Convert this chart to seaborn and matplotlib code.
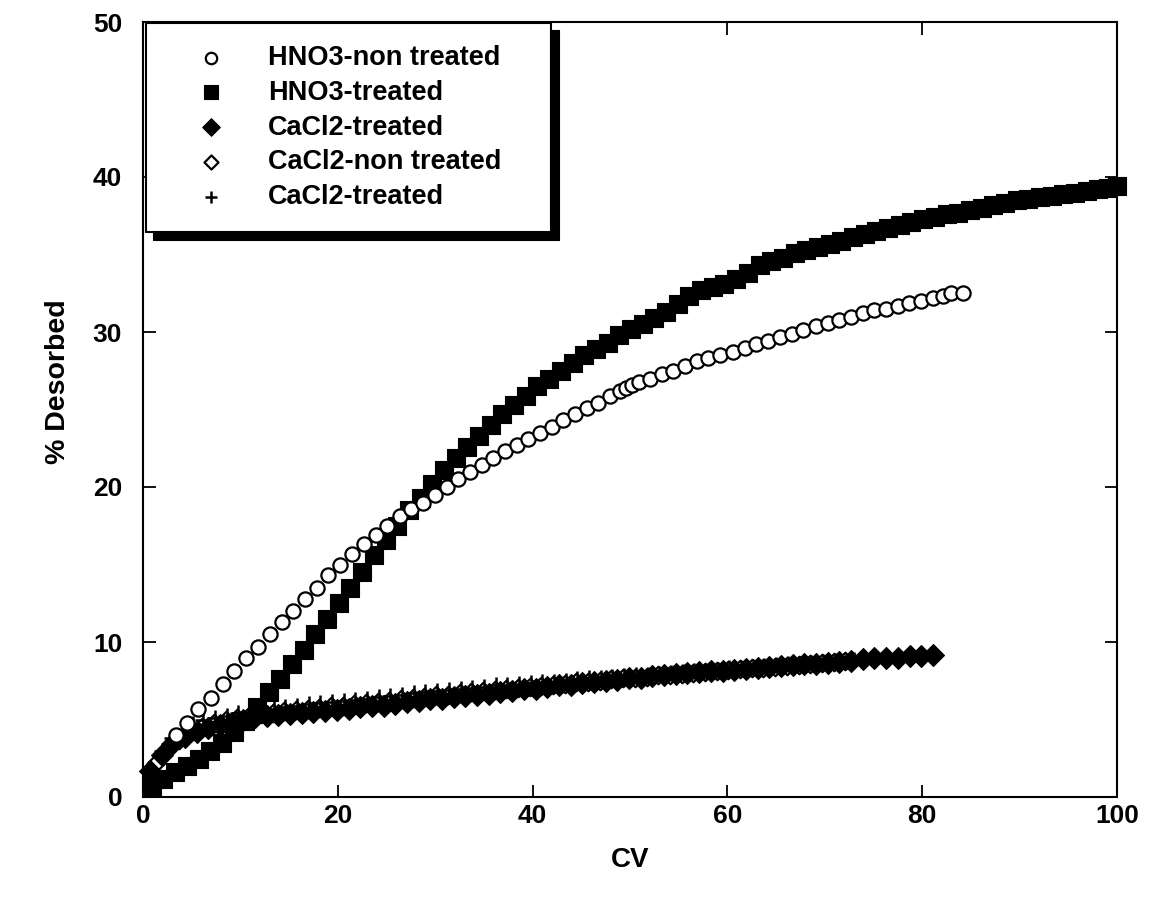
import matplotlib
matplotlib.use("Agg")
import matplotlib.pyplot as plt
import seaborn as sns

# HNO3-non treated (open circles)
hno3_non_cv = [3.4, 4.5, 5.6, 7.0, 8.2, 9.3, 10.6, 11.8, 13.0, 14.3,
               15.4, 16.6, 17.9, 19.0, 20.2, 21.5, 22.7, 23.9, 25.1, 26.4,
               27.5, 28.7, 30.0, 31.2, 32.3, 33.6, 34.8, 35.9, 37.2, 38.4,
               39.5, 40.8, 42.0, 43.1, 44.4, 45.6, 46.7, 47.9, 49.0, 49.6,
               50.2, 50.9, 52.1, 53.3, 54.4, 55.6, 56.9, 58.0, 59.2, 60.6,
               61.8, 62.9, 64.2, 65.4, 66.6, 67.8, 69.1, 70.3, 71.5, 72.7,
               73.9, 75.1, 76.3, 77.5, 78.6, 79.9, 81.1, 82.1, 83.0, 84.2]
hno3_non_pct = [4.0, 4.8, 5.7, 6.4, 7.3, 8.1, 9.0, 9.7, 10.5, 11.3,
                12.0, 12.8, 13.5, 14.3, 15.0, 15.7, 16.3, 16.9, 17.5, 18.1,
                18.6, 19.0, 19.5, 20.0, 20.5, 21.0, 21.4, 21.9, 22.3, 22.7,
                23.1, 23.5, 23.9, 24.3, 24.7, 25.1, 25.4, 25.9, 26.2, 26.4,
                26.6, 26.8, 27.0, 27.3, 27.5, 27.8, 28.1, 28.3, 28.5, 28.7,
                29.0, 29.2, 29.4, 29.7, 29.9, 30.1, 30.4, 30.6, 30.8, 31.0,
                31.2, 31.4, 31.5, 31.7, 31.9, 32.0, 32.2, 32.3, 32.5, 32.5]

# HNO3-treated (filled squares)
hno3_tr_cv = [0.9, 2.1, 3.3, 4.5, 5.7, 6.9, 8.1, 9.3, 10.5, 11.7,
              12.9, 14.1, 15.3, 16.5, 17.7, 18.9, 20.1, 21.3, 22.5, 23.7,
              24.9, 26.1, 27.3, 28.5, 29.7, 30.9, 32.1, 33.3, 34.5, 35.7,
              36.9, 38.1, 39.3, 40.5, 41.7, 42.9, 44.1, 45.3, 46.5, 47.7,
              48.9, 50.1, 51.3, 52.5, 53.7, 54.9, 56.1, 57.3, 58.5, 59.7,
              60.9, 62.1, 63.3, 64.5, 65.7, 66.9, 68.1, 69.3, 70.5, 71.7,
              72.9, 74.1, 75.3, 76.5, 77.7, 78.9, 80.1, 81.3, 82.5, 83.7,
              84.9, 86.1, 87.3, 88.5, 89.7, 90.9, 92.1, 93.3, 94.5, 95.7,
              96.9, 98.1, 99.1, 100.0]
hno3_tr_pct = [0.7, 1.15, 1.6, 2.0, 2.45, 3.0, 3.5, 4.2, 4.9, 5.8,
               6.8, 7.6, 8.6, 9.5, 10.5, 11.5, 12.5, 13.5, 14.5, 15.6,
               16.6, 17.5, 18.5, 19.3, 20.2, 21.1, 21.9, 22.6, 23.3, 24.0,
               24.7, 25.3, 25.9, 26.5, 27.0, 27.5, 28.0, 28.5, 28.9, 29.3,
               29.8, 30.2, 30.5, 30.9, 31.3, 31.8, 32.3, 32.7, 32.9, 33.1,
               33.4, 33.8, 34.3, 34.6, 34.8, 35.1, 35.3, 35.5, 35.7, 35.9,
               36.1, 36.3, 36.5, 36.7, 36.9, 37.1, 37.3, 37.4, 37.6, 37.7,
               37.9, 38.0, 38.2, 38.3, 38.5, 38.6, 38.7, 38.8, 38.9, 39.0,
               39.1, 39.2, 39.3, 39.4]

# CaCl2-treated (filled diamonds)
cacl2_tr_cv = [0.7, 1.9, 3.1, 4.3, 5.5, 6.7, 7.9, 9.1, 10.3, 11.5,
               12.7, 13.9, 15.1, 16.3, 17.5, 18.7, 19.9, 21.1, 22.3, 23.5,
               24.7, 25.9, 27.1, 28.3, 29.5, 30.7, 31.9, 33.1, 34.3, 35.5,
               36.7, 37.9, 39.1, 40.3, 41.5, 42.7, 43.9, 45.1, 46.3, 47.5,
               48.7, 49.9, 51.1, 52.3, 53.5, 54.7, 55.9, 57.1, 58.3, 59.5,
               60.7, 61.9, 63.1, 64.3, 65.5, 66.7, 67.9, 69.1, 70.3, 71.5,
               72.7, 73.9, 75.1, 76.3, 77.5, 78.7, 79.9, 81.1]
cacl2_tr_pct = [1.7, 2.7, 3.5, 3.9, 4.2, 4.45, 4.65, 4.8, 5.0, 5.15,
                5.25, 5.3, 5.35, 5.4, 5.5, 5.55, 5.6, 5.7, 5.8, 5.85,
                5.9, 6.0, 6.1, 6.2, 6.3, 6.35, 6.45, 6.5, 6.6, 6.65,
                6.75, 6.85, 6.95, 7.0, 7.1, 7.2, 7.25, 7.35, 7.4, 7.5,
                7.55, 7.65, 7.7, 7.8, 7.85, 7.95, 8.0, 8.05, 8.1, 8.15,
                8.2, 8.25, 8.3, 8.4, 8.45, 8.5, 8.55, 8.6, 8.65, 8.7,
                8.8, 8.9, 8.95, 8.95, 9.0, 9.1, 9.1, 9.16]

# CaCl2-non treated (open diamonds)
cacl2_non_cv = [1.3, 2.5, 3.7, 4.9, 6.1, 7.3, 8.5, 9.7, 10.9, 12.1,
                13.3, 14.5, 15.7, 16.9, 18.1, 19.3, 20.5, 21.7, 22.9, 24.1,
                25.3, 26.5, 27.7, 28.9, 30.1, 31.3, 32.5, 33.7, 34.9, 36.1,
                37.3, 38.5, 39.7, 40.9, 42.1, 43.3, 44.5, 45.7, 46.9, 48.1,
                49.3, 50.5, 51.7, 52.9, 54.1, 55.3, 56.5, 57.7, 58.9, 60.1,
                61.3, 62.5, 63.7, 64.9, 66.1, 67.3, 68.5, 69.7, 70.9, 72.1]
cacl2_non_pct = [2.2, 3.1, 3.7, 4.2, 4.5, 4.75, 4.95, 5.1, 5.25, 5.35,
                 5.45, 5.55, 5.6, 5.7, 5.75, 5.85, 5.9, 6.0, 6.05, 6.15,
                 6.2, 6.3, 6.4, 6.45, 6.55, 6.6, 6.7, 6.75, 6.85, 6.9,
                 6.95, 7.05, 7.1, 7.15, 7.25, 7.3, 7.4, 7.45, 7.5, 7.6,
                 7.65, 7.7, 7.75, 7.85, 7.9, 7.95, 8.0, 8.05, 8.1, 8.2,
                 8.25, 8.3, 8.35, 8.4, 8.45, 8.5, 8.6, 8.65, 8.7, 8.75]

# CaCl2-treated, second run (plus signs)
cacl2_tr2_cv = [2.0, 3.0, 4.0, 5.1, 6.2, 7.4, 8.6, 9.8, 11.0, 12.2,
                13.4, 14.6, 15.8, 17.0, 18.2, 19.4, 20.6, 21.8, 23.0, 24.2,
                25.4, 26.6, 27.8, 29.0, 30.2, 31.4, 32.6, 33.8, 35.0, 36.2,
                37.4, 38.6, 39.8, 41.0, 42.2, 43.4, 44.6, 45.8, 47.0, 48.2,
                49.4, 50.6, 51.8, 53.0, 54.2, 55.4, 56.6, 57.8, 59.0, 60.2,
                61.4, 62.6, 63.8, 65.0, 66.2, 67.4, 68.6, 69.8, 71.0, 72.2,
                73.0]
cacl2_tr2_pct = [3.0, 3.8, 4.3, 4.7, 4.95, 5.1, 5.25, 5.4, 5.5, 5.6,
                 5.7, 5.8, 5.9, 6.0, 6.05, 6.1, 6.2, 6.25, 6.35, 6.45,
                 6.5, 6.6, 6.7, 6.75, 6.85, 6.9, 7.0, 7.05, 7.1, 7.2,
                 7.25, 7.3, 7.35, 7.4, 7.45, 7.5, 7.6, 7.65, 7.7, 7.75,
                 7.8, 7.85, 7.9, 7.95, 8.0, 8.05, 8.1, 8.15, 8.2, 8.3,
                 8.35, 8.4, 8.45, 8.5, 8.55, 8.6, 8.65, 8.7, 8.75, 8.8,
                 8.85]

x_ticks = [0, 20, 40, 60, 80, 100]
y_ticks = [0, 10, 20, 30, 40, 50]

sns.set_theme(style="white")
plt.rcParams.update({
    "font.family": ["Liberation Sans", "DejaVu Sans"],
    "font.weight": "bold",
    "text.color": "black",
    "axes.labelcolor": "black",
    "axes.edgecolor": "black",
    "axes.linewidth": 1.5,
    "xtick.direction": "in", "ytick.direction": "in",
    "xtick.major.size": 9, "ytick.major.size": 9,
    "xtick.major.width": 1.3, "ytick.major.width": 1.3,
    "xtick.color": "black", "ytick.color": "black",
    "xtick.labelcolor": "black", "ytick.labelcolor": "black",
    "xtick.top": True, "ytick.right": True,
    "xtick.bottom": True, "ytick.left": True,
})

W, H = 1151, 909
fig = plt.figure(figsize=(W / 100, H / 100), dpi=100)
ax = fig.add_axes([143 / W, 1 - 797 / H, (1117 - 143) / W, (797 - 22) / H])

common = dict(ax=ax, clip_on=False, legend=False)

# open diamonds sit underneath the filled CaCl2 series
sns.scatterplot(x=cacl2_non_cv, y=cacl2_non_pct, marker="D", s=80,
                color="white", edgecolor="black", linewidth=1.6,
                zorder=2, **common)
h_odia = ax.collections[-1]
sns.scatterplot(x=hno3_tr_cv, y=hno3_tr_pct, marker="s", s=150,
                color="black", edgecolor="black", linewidth=0.8,
                zorder=3, **common)
h_sq = ax.collections[-1]
sns.scatterplot(x=cacl2_tr_cv, y=cacl2_tr_pct, marker="D", s=125,
                color="black", edgecolor="black", linewidth=0.8,
                zorder=3, **common)
h_dia = ax.collections[-1]
sns.scatterplot(x=cacl2_tr2_cv, y=cacl2_tr2_pct, marker="+", s=120,
                color="black", linewidth=1.8, zorder=4, **common)
h_plus = ax.collections[-1]
sns.scatterplot(x=hno3_non_cv, y=hno3_non_pct, marker="o", s=105,
                color="white", edgecolor="black", linewidth=1.6,
                zorder=5, **common)
h_circ = ax.collections[-1]

ax.set_xlim(0, 100)
ax.set_ylim(0, 50)
ax.set_xticks(x_ticks)
ax.set_yticks(y_ticks)
ax.tick_params(axis="x", labelsize=19, pad=5)
ax.tick_params(axis="y", labelsize=19, pad=15)
for lab in ax.get_xticklabels() + ax.get_yticklabels():
    lab.set_fontweight("bold")

ax.set_xlabel("CV", fontsize=20, fontweight="bold")
ax.set_ylabel("% Desorbed", fontsize=20.5, fontweight="bold")
ax.xaxis.label.set_va("center")
ax.yaxis.label.set_va("center")
ax.xaxis.set_label_coords(0.5, (797 - 860) / 775)
ax.yaxis.set_label_coords((58 - 143) / 974, (797 - 382) / 775)

leg = ax.legend(
    handles=[h_circ, h_sq, h_dia, h_odia, h_plus],
    labels=["HNO3-non treated", "HNO3-treated", "CaCl2-treated",
            "CaCl2-non treated", "CaCl2-treated"],
    loc="upper left", mode="expand",
    bbox_to_anchor=(146 / W, 1 - 231 / H, 405 / W, 208 / H),
    bbox_transform=fig.transFigure, borderaxespad=0,
    frameon=True, fancybox=False, framealpha=1, edgecolor="black",
    shadow={"color": "black", "alpha": 1, "ox": 6, "oy": -6},
    prop={"size": 19.5, "weight": "bold"},
    borderpad=0.8, handlelength=3.2, handletextpad=0.5,
    labelspacing=0.33, scatterpoints=1, markerscale=0.8,
)
leg.get_frame().set_linewidth(1.5)
leg.set_zorder(10)

fig.savefig("out.png", dpi=100, facecolor="white")
